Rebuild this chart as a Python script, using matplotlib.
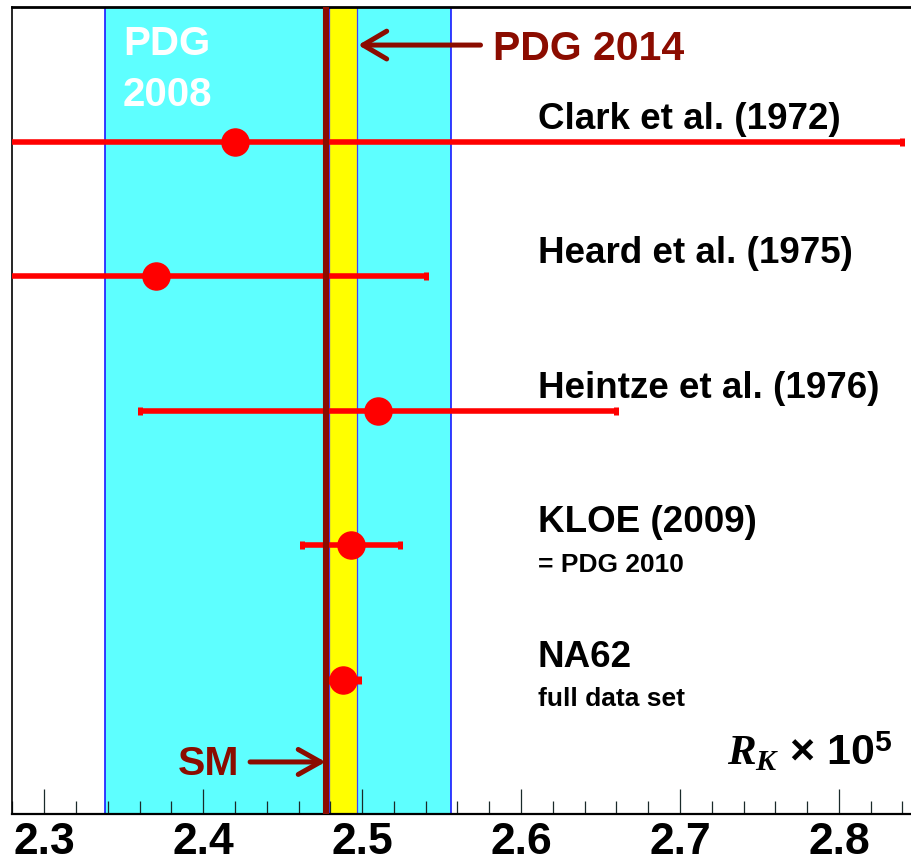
import matplotlib
matplotlib.use('Agg')
import matplotlib.pyplot as plt
from matplotlib.ticker import FixedLocator, MultipleLocator

plt.rcParams['font.family'] = ['Liberation Sans', 'DejaVu Sans']
plt.rcParams['font.weight'] = 'bold'
plt.rcParams['mathtext.fontset'] = 'custom'
plt.rcParams['mathtext.rm'] = 'Liberation Sans:bold'
plt.rcParams['mathtext.bf'] = 'Liberation Sans:bold'
plt.rcParams['mathtext.it'] = 'Liberation Serif:italic:bold'

# R_K x 10^5 measurements, top to bottom
experiments = ['Clark et al. (1972)', 'Heard et al. (1975)', 'Heintze et al. (1976)',
               'KLOE (2009)', 'NA62']
notes = ['', '', '', '= PDG 2010', 'full data set']
rk = [2.42, 2.37, 2.51, 2.493, 2.488]
rk_err = [0.42, 0.17, 0.15, 0.031, 0.010]
rows = [5, 4, 3, 2, 1]

pdg2008 = 2.447
pdg2008_err = 0.109
pdg2014 = 2.488
pdg2014_err = 0.009
sm = 2.477

xticks = [2.3, 2.4, 2.5, 2.6, 2.7, 2.8]
xticklabels = ['2.3', '2.4', '2.5', '2.6', '2.7', '2.8']

brown = '#8b0c00'
cyan = '#5effff'

W, H = 912, 865
fig = plt.figure(figsize=(W / 100, H / 100), dpi=100)
ax = fig.add_axes([11.7 / W, 51 / H, (W - 11.7) / W, 807 / H])
ax.set_xlim(2.2795, 2.846)
ax.set_ylim(0, 6)

# PDG 2008 and PDG 2014 bands, SM line
ax.axvspan(pdg2008 - pdg2008_err, pdg2008 + pdg2008_err, facecolor=cyan,
           edgecolor='#1a1aff', lw=1.2, zorder=0)
ax.axvspan(pdg2014 - pdg2014_err, pdg2014 + pdg2014_err, facecolor='#ffff00',
           edgecolor='#4040ff', lw=0.9, zorder=1)

ax.errorbar(rk, rows, xerr=rk_err, fmt='o', color='#ff0000', ms=19.5,
            elinewidth=4, capsize=3, capthick=3.6, zorder=3)
ax.axvline(sm, color=brown, lw=4.4, zorder=4)

for name, note, y in zip(experiments, notes, rows):
    ax.text(2.6105, y + 0.095, name, fontsize=26.5, fontweight='bold',
            va='baseline', ha='left', zorder=5)
    if note:
        ax.text(2.6105, y - 0.2, note, fontsize=19, fontweight='bold',
                va='baseline', ha='left', zorder=5)

ax.text(2.3495, 5.643, 'PDG', color='white', fontsize=29, fontweight='bold',
        va='baseline', zorder=5)
ax.text(2.3495, 5.264, '2008', color='white', fontsize=29, fontweight='bold',
        va='baseline', zorder=5)

ax.text(2.5824, 5.606, 'PDG 2014', color=brown, fontsize=29.5, fontweight='bold',
        va='baseline', zorder=5)
ax.annotate('', xy=(pdg2014 + pdg2014_err + 0.0005, 5.717), xytext=(2.5745, 5.717),
            arrowprops=dict(arrowstyle='->,head_length=0.85,head_width=0.5',
                            color=brown, lw=3.6, mutation_scale=20,
                            shrinkA=0, shrinkB=0), zorder=5)

ax.text(2.3842, 0.29, 'SM', color=brown, fontsize=29.5, fontweight='bold',
        va='baseline', zorder=5)
ax.annotate('', xy=(sm, 0.387), xytext=(2.4295, 0.387),
            arrowprops=dict(arrowstyle='->,head_length=0.8,head_width=0.45',
                            color=brown, lw=3.6, mutation_scale=20,
                            shrinkA=0, shrinkB=0), zorder=5)

ax.text(2.7296, 0.364, r'$R_K\,\times\,10^5$', fontsize=31, va='baseline', zorder=5)

# axis styling
ax.xaxis.set_major_locator(FixedLocator(xticks))
ax.xaxis.set_minor_locator(MultipleLocator(0.02))
ax.set_xticklabels(xticklabels, fontsize=32, fontweight='bold')
ax.tick_params(axis='x', which='major', direction='in', length=18, width=0.9,
               color='#1a2a2a', pad=6)
ax.tick_params(axis='x', which='minor', direction='in', length=9.5, width=0.9,
               color='#1a2a2a')
ax.set_yticks([])
ax.spines['right'].set_visible(False)
ax.spines['top'].set_linewidth(2)
ax.spines['bottom'].set_linewidth(1.6)
ax.spines['left'].set_linewidth(1.2)

fig.savefig('out.png', dpi=100)
